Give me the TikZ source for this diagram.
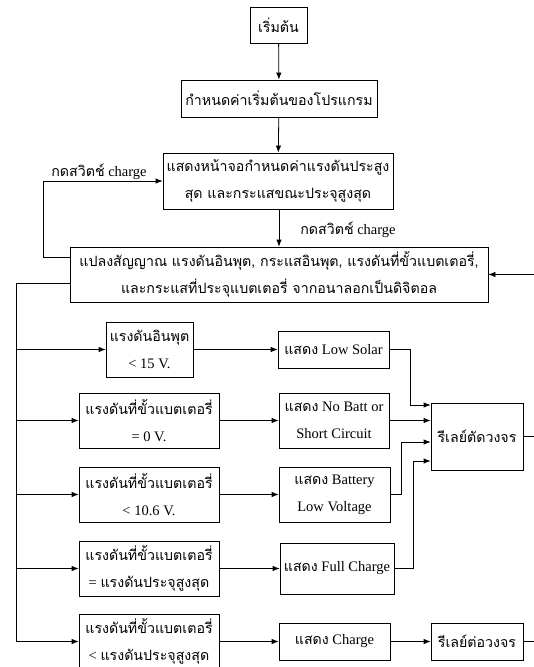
\documentclass[tikz,border=0pt]{standalone}
\usepackage{fontspec}
\setmainfont{Liberation Serif}
\newfontfamily\thai[Script=Thai]{Loma}
\usetikzlibrary{arrows.meta}
\newcommand{\tht}[1]{{\thai\fontsize{14.2}{27}\selectfont #1}}
\tikzset{
  box/.style={draw, line width=0.8pt, inner sep=0pt, align=center,
    font=\fontsize{14.5}{27}\selectfont},
  lbl/.style={inner sep=0pt, font=\fontsize{14.5}{27}\selectfont},
  arr/.style={line width=0.8pt, -{Latex[length=7pt,width=5.5pt]}},
  ln/.style={line width=0.8pt}
}
\begin{document}
\begin{tikzpicture}[x=1pt,y=-1pt]
\useasboundingbox (0,0) rectangle (534,667);
% nodes
\node[box, minimum width=57, minimum height=36] (start) at (278.5,25) {\tht{เริ่มต้น}};
\node[box, minimum width=196, minimum height=37] (init) at (279,98.5) {\tht{กำหนดค่าเริ่มต้นของโปรแกรม}};
\node[box, minimum width=230, minimum height=56] (disp) at (278,181) {\tht{แสดงหน้าจอกำหนดค่าแรงดันประสูง}\\\tht{สุด และกระแสขณะประจุสูงสุด}};
\node[box, minimum width=418, minimum height=55] (conv) at (279,274.5) {\tht{แปลงสัญญาณ แรงดันอินพุต, กระแสอินพุต, แรงดันที่ขั้วแบตเตอรี่,}\\\tht{และกระแสที่ประจุแบตเตอรี่ จากอนาลอกเป็นดิจิตอล}};
\node[lbl] (lab1) at (99,172) {\tht{กดสวิตช์} charge};
\node[lbl] (lab2) at (348,230) {\tht{กดสวิตช์} charge};

\node[box, minimum width=87, minimum height=55] (c1) at (149.5,349.5) {\tht{แรงดันอินพุต}\\< 15 V.};
\node[box, minimum width=140, minimum height=55] (c2) at (149,420.5) {\tht{แรงดันที่ขั้วแบตเตอรี่}\\= 0 V.};
\node[box, minimum width=140, minimum height=55] (c3) at (149,494.5) {\tht{แรงดันที่ขั้วแบตเตอรี่}\\< 10.6 V.};
\node[box, minimum width=140, minimum height=55] (c4) at (149,568.5) {\tht{แรงดันที่ขั้วแบตเตอรี่}\\= \tht{แรงดันประจุสูงสุด}};
\node[box, minimum width=140, minimum height=55] (c5) at (149,641.5) {\tht{แรงดันที่ขั้วแบตเตอรี่}\\< \tht{แรงดันประจุสูงสุด}};

\node[box, minimum width=111, minimum height=37] (d1) at (333.5,349.5) {\tht{แสดง} Low Solar};
\node[box, minimum width=110, minimum height=55] (d2) at (334,420.5) {\tht{แสดง} No Batt or\\Short Circuit};
\node[box, minimum width=111, minimum height=55] (d3) at (334.5,494.5) {\tht{แสดง} Battery\\Low Voltage};
\node[box, minimum width=114, minimum height=51] (d4) at (337,568.5) {\tht{แสดง} Full Charge};
\node[box, minimum width=111, minimum height=37] (d5) at (334.5,641.5) {\tht{แสดง} Charge};

\node[box, minimum width=92, minimum height=67] (r1) at (477,436.5) {\tht{รีเลย์ตัดวงจร}};
\node[box, minimum width=92, minimum height=37] (r2) at (477,641.5) {\tht{รีเลย์ต่อวงจร}};

% helper coordinates
\coordinate (l1) at (43,257);
\coordinate (b0) at (16,283);
\coordinate (k1) at (410,405);
\coordinate (k3) at (401,442);
\coordinate (k4) at (413,461);
\coordinate (rt) at (541,274.5);

% connectors
\draw[arr] (start) -- (init);
\draw[arr] (init) -- (disp);
\draw[arr] (disp.south -| conv.north) -- (conv.north);
\draw[arr] (l1 -| conv.west) -- (l1) |- (disp.west);
\draw[ln] (b0 -| conv.west) -- (b0) -- (b0 |- c5.west);
\foreach \n in {c1,c2,c3,c4,c5}{
  \draw[arr] (b0 |- \n.west) -- (\n.west);
}
\draw[arr] (c1.east) -- (c1.east -| d1.west);
\draw[arr] (c2.east) -- (c2.east -| d2.west);
\draw[arr] (c3.east) -- (c3.east -| d3.west);
\draw[arr] (c4.east) -- (c4.east -| d4.west);
\draw[arr] (c5.east) -- (c5.east -| d5.west);
\draw[arr] (d1.east) -| (k1) -- (k1 -| r1.west);
\draw[arr] (d2.east) -- (d2.east -| r1.west);
\draw[arr] (d3.east) -| (k3) -- (k3 -| r1.west);
\draw[arr] (d4.east) -| (k4) -- (k4 -| r1.west);
\draw[arr] (d5.east) -- (d5.east -| r2.west);
\draw[arr] (r1.east) -| (rt) -- (conv.east);
\draw[ln] (r2.east) -| (rt);
\end{tikzpicture}
\end{document}
